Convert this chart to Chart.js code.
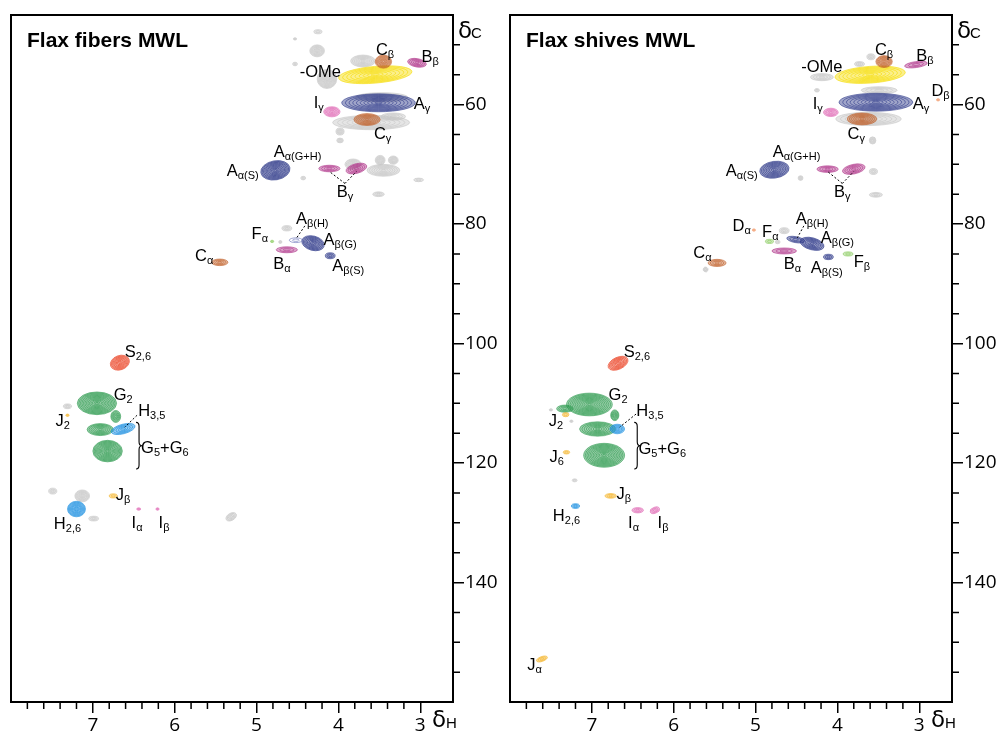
<!DOCTYPE html>
<html>
<head>
<meta charset="utf-8">
<script src="https://cdn.jsdelivr.net/npm/chart.js@4/dist/chart.umd.min.js"></script>
<style>
  html, body { margin: 0; padding: 0; background: #fff; }
  #wrap { position: relative; width: 998px; height: 732px; }
  canvas { position: absolute; top: 0; }
  #fibers { left: 0; }
  #shives { left: 499px; }
</style>
</head>
<body>
<div id="wrap">
  <canvas id="fibers" width="500" height="732"></canvas>
  <canvas id="shives" width="499" height="732"></canvas>
</div>
<script>
// axis ticks (ppm)
const xMajor = [3, 4, 5, 6, 7];
const xMinor = [3.2, 3.4, 3.6, 3.8, 4.2, 4.4, 4.6, 4.8, 5.2, 5.4, 5.6, 5.8, 6.2, 6.4, 6.6, 6.8, 7.2, 7.4, 7.6, 7.8];
const yMajor = [60, 80, 100, 120, 140];
const yMinor = [50, 55, 65, 70, 75, 85, 90, 95, 105, 110, 115, 125, 130, 135, 145, 150, 155];

// peaks: [δH, δC, half-width δH, half-width δC, tilt]
const fibersGrey = [
  [4.25, 47.8, 0.05, 0.35], [4.53, 49.0, 0.02, 0.2], [4.26, 51.0, 0.09, 1.0], [4.14, 55.7, 0.12, 1.6],
  [3.70, 52.7, 0.15, 1.0], [4.53, 53.2, 0.03, 0.3], [3.47, 58.8, 0.32, 0.8], [3.60, 63.0, 0.47, 1.2],
  [3.33, 62.0, 0.15, 0.6], [3.98, 64.5, 0.05, 0.6], [3.98, 66.0, 0.04, 0.4], [3.49, 69.3, 0.06, 0.8],
  [3.33, 69.3, 0.06, 0.7], [3.45, 71.0, 0.2, 1.0], [3.82, 70.0, 0.1, 0.9], [3.02, 72.6, 0.06, 0.3],
  [3.51, 75.0, 0.07, 0.4], [4.43, 72.3, 0.03, 0.3], [4.63, 80.7, 0.06, 0.45], [4.71, 83.0, 0.02, 0.25],
  [7.31, 110.5, 0.05, 0.4], [7.49, 124.7, 0.05, 0.5], [7.13, 125.5, 0.09, 1.0], [6.99, 129.3, 0.06, 0.4],
  [5.31, 129.0, 0.07, 0.6, -30]
];
const fibersBlue = [[3.51, 59.7, 0.45, 1.5], [4.77, 71.0, 0.18, 1.6, -10], [4.31, 83.2, 0.14, 1.2, 15], [4.10, 85.3, 0.06, 0.5]];
const fibersBlueFaint = [[4.52, 82.7, 0.08, 0.4]];
const fibersOrange = [[3.45, 52.8, 0.10, 1.1], [3.65, 62.5, 0.16, 1.0], [5.45, 86.4, 0.10, 0.55]];
const fibersMagenta = [[3.04, 53.0, 0.115, 0.7, 10], [4.11, 70.7, 0.13, 0.55], [3.78, 70.7, 0.13, 0.8, -15], [4.63, 84.3, 0.13, 0.5]];
const fibersPink = [[4.08, 61.2, 0.1, 0.85], [6.44, 127.7, 0.025, 0.2], [6.21, 127.7, 0.02, 0.18]];
const fibersYellow = [[3.55, 55.0, 0.45, 1.4, -5]];
const fibersGreen = [[6.95, 110.0, 0.24, 1.9], [6.72, 112.2, 0.06, 1.0], [6.91, 114.4, 0.16, 1.0], [6.82, 118.0, 0.18, 1.8]];
const fibersRed = [[6.67, 103.2, 0.12, 1.2, -20]];
const fibersCyan = [[6.63, 114.3, 0.15, 0.8, -15], [7.2, 127.7, 0.11, 1.3]];
const fibersGold = [[7.31, 112.0, 0.02, 0.2], [6.75, 125.5, 0.05, 0.35]];
const fibersLime = [[4.81, 82.9, 0.02, 0.2]];

const shivesGrey = [
  [4.19, 55.4, 0.14, 0.6], [3.73, 53.2, 0.06, 0.4], [3.59, 52.0, 0.05, 0.5], [4.25, 57.6, 0.03, 0.3],
  [3.49, 57.6, 0.22, 0.6], [3.62, 62.4, 0.40, 1.1], [3.57, 66.0, 0.04, 0.6], [3.56, 71.2, 0.05, 0.5],
  [4.45, 72.3, 0.03, 0.4], [3.53, 75.1, 0.08, 0.4], [4.65, 81.1, 0.06, 0.5], [4.73, 83.0, 0.03, 0.3],
  [5.61, 87.6, 0.03, 0.4, 30], [7.21, 122.9, 0.03, 0.25], [7.25, 113.0, 0.02, 0.2], [7.5, 111.1, 0.02, 0.15]
];
const shivesBlue = [[3.53, 59.6, 0.45, 1.5], [4.77, 70.9, 0.18, 1.4, -8], [4.51, 82.6, 0.11, 0.5, 10], [4.31, 83.3, 0.15, 1.0, 15], [4.11, 85.5, 0.06, 0.45]];
const shivesOrange = [[3.43, 52.8, 0.10, 1.0], [3.70, 62.4, 0.18, 1.0], [5.47, 86.5, 0.11, 0.6]];
const shivesPeach = [[2.77, 59.2, 0.02, 0.2], [5.02, 81.0, 0.02, 0.2]];
const shivesMagenta = [[3.04, 53.3, 0.14, 0.5, -8], [4.12, 70.8, 0.13, 0.55], [3.80, 70.8, 0.14, 0.8, -12], [4.65, 84.5, 0.15, 0.5]];
const shivesPink = [[4.08, 61.3, 0.09, 0.7], [6.44, 127.9, 0.07, 0.45], [6.23, 127.9, 0.06, 0.5, -20]];
const shivesYellow = [[3.60, 55.0, 0.43, 1.4, -4]];
const shivesGreen = [[7.03, 110.2, 0.28, 1.9], [7.33, 110.9, 0.1, 0.6], [6.72, 112.0, 0.05, 0.9], [6.93, 114.3, 0.22, 1.2], [6.85, 118.7, 0.25, 2.0]];
const shivesRed = [[6.68, 103.3, 0.13, 1.0, -25]];
const shivesCyan = [[6.69, 114.3, 0.09, 0.8], [7.2, 127.2, 0.05, 0.4]];
const shivesGold = [[7.32, 111.9, 0.04, 0.35], [7.31, 118.2, 0.04, 0.3], [6.77, 125.5, 0.07, 0.4], [7.61, 152.8, 0.07, 0.4, -20]];
const shivesLime = [[4.83, 82.9, 0.05, 0.35], [3.87, 85.0, 0.06, 0.35]];

// labels: [[text, sub, text, sub...], δH, δC]
const fibersLabels = [
  [['-OMe'], 4.22, 54.3], [['C', 'β'], 3.43, 50.7], [['B', 'β'], 2.88, 51.8], [['I', 'γ'], 4.24, 59.5],
  [['A', 'γ'], 2.98, 59.8], [['C', 'γ'], 3.46, 64.8], [['A', 'α(G+H)'], 4.50, 67.8], [['A', 'α(S)'], 5.17, 71.0],
  [['B', 'γ'], 3.92, 74.5], [['A', 'β(H)'], 4.32, 79.0], [['F', 'α'], 4.96, 81.5], [['A', 'β(G)'], 3.98, 82.5],
  [['C', 'α'], 5.64, 85.2], [['B', 'α'], 4.69, 86.5], [['A', 'β(S)'], 3.88, 86.8], [['S', '2,6'], 6.45, 101.2],
  [['G', '2'], 6.63, 108.5], [['H', '3,5'], 6.28, 111.2], [['J', '2'], 7.37, 112.8], [['G', '5', '+G', '6'], 6.12, 117.3],
  [['J', 'β'], 6.63, 125.2], [['H', '2,6'], 7.31, 130.0], [['I', 'α'], 6.46, 129.8], [['I', 'β'], 6.13, 129.8]
];
const shivesLabels = [
  [['C', 'β'], 3.43, 50.7], [['B', 'β'], 2.93, 51.7], [['-OMe'], 4.19, 53.5], [['D', 'β'], 2.74, 57.6],
  [['I', 'γ'], 4.24, 59.7], [['A', 'γ'], 2.98, 59.8], [['C', 'γ'], 3.77, 64.7], [['A', 'α(G+H)'], 4.50, 67.8],
  [['A', 'α(S)'], 5.17, 71.0], [['B', 'γ'], 3.94, 74.5], [['D', 'α'], 5.17, 80.2], [['F', 'α'], 4.82, 81.2],
  [['A', 'β(H)'], 4.31, 79.0], [['A', 'β(G)'], 4.00, 82.2], [['F', 'β'], 3.70, 86.2], [['C', 'α'], 5.65, 84.7],
  [['B', 'α'], 4.55, 86.5], [['A', 'β(S)'], 4.13, 87.2], [['S', '2,6'], 6.45, 101.2], [['G', '2'], 6.68, 108.5],
  [['H', '3,5'], 6.29, 111.2], [['J', '2'], 7.44, 112.8], [['J', '6'], 7.43, 118.8], [['G', '5', '+G', '6'], 6.14, 117.5],
  [['J', 'β'], 6.61, 125.0], [['H', '2,6'], 7.31, 128.7], [['I', 'α'], 6.49, 129.8], [['I', 'β'], 6.13, 129.8],
  [['J', 'α'], 7.70, 153.7]
];

// dashed leaders [δH1, δC1, δH2, δC2] and braces [δH, δC top, δC bottom]
const fibersLeaders = [[3.92, 73.2, 4.11, 71.2], [3.92, 73.2, 3.78, 71.2], [4.41, 80.3, 4.52, 82.5], [6.46, 112.0, 6.61, 114.0]];
const shivesLeaders = [[3.94, 73.2, 4.12, 71.2], [3.94, 73.2, 3.80, 71.2], [4.41, 80.3, 4.49, 82.3], [6.46, 111.8, 6.66, 114.0]];
const fibersBrace = [6.46, 113.2, 121.0];
const shivesBrace = [6.47, 113.2, 121.0];

const colors = {
  grey: '#c6c6c6', blue: '#2c3788', blueFaint: '#6570b8', orange: '#c0612a', peach: '#f29a6a',
  magenta: '#b0358a', pink: '#e06cb6', yellow: '#f6dc00', green: '#2c9a4e', red: '#ec4a2d',
  cyan: '#1b8fe0', gold: '#f5b52c', lime: '#8ccd62'
};

function drawPeak(ctx, cx, cy, rx, ry, rot, color, faint) {
  ctx.save();
  ctx.translate(cx, cy);
  ctx.rotate(rot * Math.PI / 180);
  rx = Math.max(rx, 1.5);
  ry = Math.max(ry, 1.2);
  const n = faint ? 2 : Math.max(2, Math.round(Math.min(rx, ry) / 0.9));
  if (!faint) {
    ctx.globalAlpha = 0.45;
    ctx.fillStyle = color;
    ctx.beginPath();
    ctx.ellipse(0, 0, rx, ry, 0, 0, Math.PI * 2);
    ctx.fill();
  }
  ctx.globalAlpha = 0.85;
  ctx.strokeStyle = color;
  ctx.lineWidth = 0.7;
  for (let k = 0; k < n; k++) {
    const f = 1 - k / n;
    ctx.beginPath();
    ctx.ellipse(0, 0, Math.max(rx * f, 0.6), Math.max(ry * f, 0.6), 0, 0, Math.PI * 2);
    ctx.stroke();
  }
  ctx.restore();
}

const peakPlugin = {
  id: 'peaks',
  afterDatasetsDraw(chart) {
    const { ctx, chartArea, scales: { x, y } } = chart;
    ctx.save();
    ctx.beginPath();
    ctx.rect(chartArea.left, chartArea.top, chartArea.right - chartArea.left, chartArea.bottom - chartArea.top);
    ctx.clip();
    chart.data.datasets.forEach((ds, i) => {
      chart.getDatasetMeta(i).data.forEach((el, j) => {
        const p = ds.peaks[j];
        const rx = Math.abs(x.getPixelForValue(p[0] + p[2]) - el.x);
        const ry = Math.abs(y.getPixelForValue(p[1] + p[3]) - el.y);
        drawPeak(ctx, el.x, el.y, rx, ry, p[4] || 0, ds.color, ds.faint);
      });
    });
    ctx.restore();
  }
};

function drawLabel(ctx, parts, cx, cy) {
  const big = '16.5px "Liberation Sans", Arial, sans-serif';
  const small = '11px "Liberation Sans", Arial, sans-serif';
  let w = 0;
  parts.forEach((t, k) => { ctx.font = k % 2 ? small : big; w += ctx.measureText(t).width; });
  let px = cx - w / 2;
  const base = cy + 6;
  parts.forEach((t, k) => {
    ctx.font = k % 2 ? small : big;
    ctx.fillText(t, px, k % 2 ? base + 3 : base);
    px += ctx.measureText(t).width;
  });
}

const decorPlugin = {
  id: 'decor',
  afterDraw(chart) {
    const { ctx, chartArea: a, scales: { x, y } } = chart;
    const o = chart.options.plugins.decor;
    ctx.save();
    // frame
    ctx.strokeStyle = '#000';
    ctx.lineWidth = 2;
    ctx.strokeRect(a.left, a.top, a.right - a.left, a.bottom - a.top);
    // minor ticks
    ctx.lineWidth = 1.5;
    ctx.beginPath();
    xMinor.forEach(v => { const px = x.getPixelForValue(v); ctx.moveTo(px, a.bottom); ctx.lineTo(px, a.bottom + 7); });
    yMinor.forEach(v => { const py = y.getPixelForValue(v); ctx.moveTo(a.right, py); ctx.lineTo(a.right + 7, py); });
    ctx.stroke();
    // title
    ctx.fillStyle = '#000';
    ctx.font = 'bold 21px "Liberation Sans", Arial, sans-serif';
    ctx.textBaseline = 'alphabetic';
    ctx.fillText(o.title, a.left + 16, a.top + 32);
    // axis symbols
    ctx.font = '23px "DejaVu Sans", sans-serif';
    ctx.fillText('δ', a.right + 5, a.top + 23);
    ctx.font = '15px "Liberation Sans", Arial, sans-serif';
    ctx.fillText('C', a.right + 18, a.top + 23);
    ctx.font = '23px "DejaVu Sans", sans-serif';
    ctx.fillText('δ', a.right - 21, a.bottom + 25);
    ctx.font = '15px "Liberation Sans", Arial, sans-serif';
    ctx.fillText('H', a.right - 7, a.bottom + 26);
    // labels
    o.labels.forEach(l => drawLabel(ctx, l[0], x.getPixelForValue(l[1]), y.getPixelForValue(l[2])));
    // leaders
    ctx.lineWidth = 1;
    ctx.setLineDash([2, 2]);
    ctx.beginPath();
    o.leaders.forEach(l => {
      ctx.moveTo(x.getPixelForValue(l[0]), y.getPixelForValue(l[1]));
      ctx.lineTo(x.getPixelForValue(l[2]), y.getPixelForValue(l[3]));
    });
    ctx.stroke();
    ctx.setLineDash([]);
    // brace
    const bx = x.getPixelForValue(o.brace[0]);
    const t = y.getPixelForValue(o.brace[1]);
    const b = y.getPixelForValue(o.brace[2]);
    const m = (t + b) / 2;
    ctx.lineWidth = 1.1;
    ctx.beginPath();
    ctx.moveTo(bx - 1, t);
    ctx.quadraticCurveTo(bx + 2, t, bx + 2, t + 4);
    ctx.lineTo(bx + 2, m - 4);
    ctx.quadraticCurveTo(bx + 2, m, bx + 5, m);
    ctx.quadraticCurveTo(bx + 2, m, bx + 2, m + 4);
    ctx.lineTo(bx + 2, b - 4);
    ctx.quadraticCurveTo(bx + 2, b, bx - 1, b);
    ctx.stroke();
    ctx.restore();
  }
};

function makePanel(id, title, groups, labels, leaders, brace) {
  const datasets = groups.map(([peaks, color, faint]) => ({
    data: peaks.map(p => ({ x: p[0], y: p[1] })),
    peaks: peaks,
    color: color,
    faint: !!faint,
    pointRadius: 0,
    pointHoverRadius: 0
  }));
  return new Chart(document.getElementById(id), {
    type: 'scatter',
    data: { datasets },
    options: {
      responsive: false,
      animation: false,
      devicePixelRatio: 1,
      events: [],
      layout: { padding: { left: 11, top: 15, right: 0, bottom: 0 } },
      plugins: { legend: { display: false }, tooltip: { enabled: false }, decor: { title, labels, leaders, brace } },
      scales: {
        x: {
          type: 'linear', min: 2.6, max: 8.0, reverse: true,
          afterBuildTicks: s => { s.ticks = xMajor.map(v => ({ value: v })); },
          afterFit: s => { s.height = 30; },
          grid: { drawOnChartArea: false, drawTicks: true, tickLength: 11, color: '#000', lineWidth: 1.5 },
          border: { display: false },
          ticks: { color: '#000', padding: 1, maxRotation: 0, font: { family: '"Open Sans", sans-serif', size: 19 } }
        },
        y: {
          type: 'linear', position: 'right', min: 45, max: 160, reverse: true,
          afterBuildTicks: s => { s.ticks = yMajor.map(v => ({ value: v })); },
          afterFit: s => { s.width = s.chart.width - 453; },
          grid: { drawOnChartArea: false, drawTicks: true, tickLength: 11, color: '#000', lineWidth: 1.5 },
          border: { display: false },
          ticks: { color: '#000', padding: 1, font: { family: '"Open Sans", sans-serif', size: 19 } }
        }
      }
    },
    plugins: [peakPlugin, decorPlugin]
  });
}

makePanel('fibers', 'Flax fibers MWL', [
  [fibersGrey, colors.grey], [fibersYellow, colors.yellow], [fibersBlue, colors.blue], [fibersBlueFaint, colors.blueFaint, true],
  [fibersOrange, colors.orange], [fibersMagenta, colors.magenta], [fibersPink, colors.pink], [fibersGreen, colors.green],
  [fibersRed, colors.red], [fibersCyan, colors.cyan], [fibersGold, colors.gold], [fibersLime, colors.lime]
], fibersLabels, fibersLeaders, fibersBrace);

makePanel('shives', 'Flax shives MWL', [
  [shivesGrey, colors.grey], [shivesYellow, colors.yellow], [shivesBlue, colors.blue], [shivesOrange, colors.orange],
  [shivesPeach, colors.peach], [shivesMagenta, colors.magenta], [shivesPink, colors.pink], [shivesGreen, colors.green],
  [shivesRed, colors.red], [shivesCyan, colors.cyan], [shivesGold, colors.gold], [shivesLime, colors.lime]
], shivesLabels, shivesLeaders, shivesBrace);
</script>
</body>
</html>
